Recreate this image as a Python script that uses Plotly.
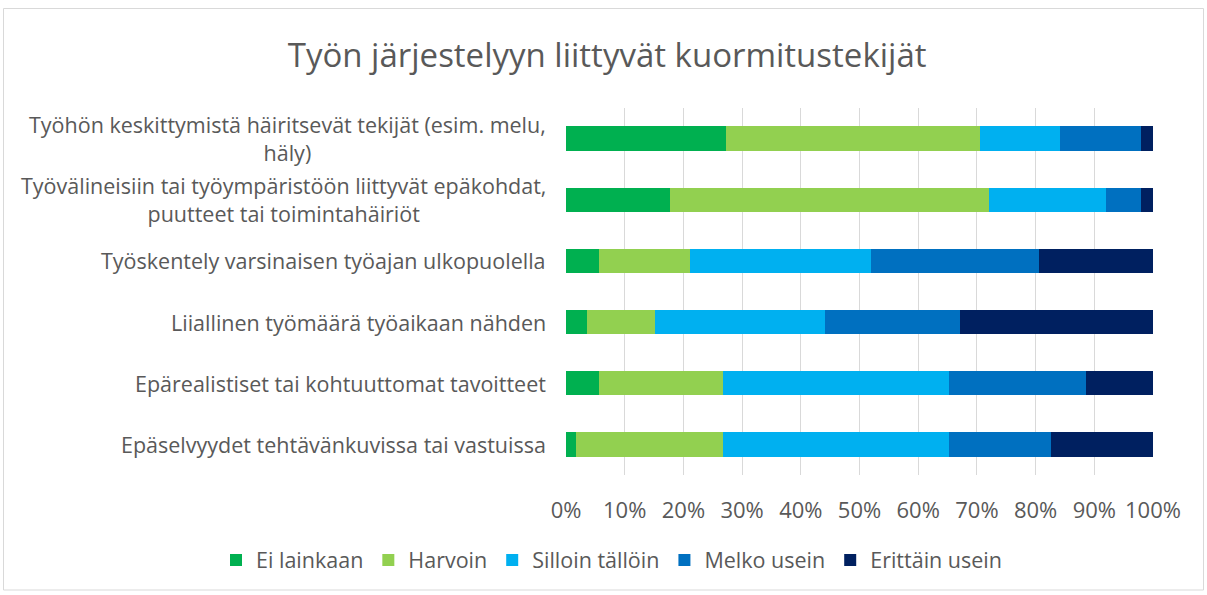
import plotly.graph_objects as go

categories = [
    "Työhön keskittymistä häiritsevät tekijät (esim. melu,<br>häly)",
    "Työvälineisiin tai työympäristöön liittyvät epäkohdat,<br>puutteet tai toimintahäiriöt",
    "Työskentely varsinaisen työajan ulkopuolella",
    "Liiallinen työmäärä työaikaan nähden",
    "Epärealistiset tai kohtuuttomat tavoitteet",
    "Epäselvyydet tehtävänkuvissa tai vastuissa",
]
series_names = ["Ei lainkaan", "Harvoin", "Silloin tällöin", "Melko usein", "Erittäin usein"]
ei_lainkaan = [27.2, 17.8, 5.6, 3.6, 5.6, 1.7]
harvoin = [43.3, 54.2, 15.5, 11.6, 21.2, 25.1]
silloin_tallooin = [13.7, 20.0, 30.8, 28.9, 38.5, 38.5]
melko_usein = [13.8, 6.0, 28.7, 23.1, 23.2, 17.4]
erittain_usein = [2.0, 2.0, 19.4, 32.8, 11.5, 17.3]
tick_vals = [0, 0.1, 0.2, 0.3, 0.4, 0.5, 0.6, 0.7, 0.8, 0.9, 1.0]

colors = ["#00B050", "#92D050", "#00B0F0", "#0070C0", "#002060"]
series = [ei_lainkaan, harvoin, silloin_tallooin, melko_usein, erittain_usein]

ids = list(range(len(categories)))
fig = go.Figure()
for name, vals, col in zip(series_names, series, colors):
    fig.add_trace(go.Bar(
        y=ids, x=[v / 100 for v in vals], name=name, orientation="h",
        marker=dict(color=col, line=dict(width=0)), width=0.4,
    ))

FONT = "'Open Sans', sans-serif"
GREY = "#595959"

W, H = 1207, 595
L, R, T, B = 566, 54, 108, 120
pw, ph = W - L - R, H - T - B

annotations = []
for i, c in enumerate(categories):
    annotations.append(dict(
        x=0, xref="paper", y=i, yref="y", xshift=-18,
        text=c, showarrow=False, xanchor="right", yanchor="middle",
        align="center", font=dict(family=FONT, size=21.5, color=GREY),
    ))

def px_x(p):
    return (p - L) / pw

def px_y(p):
    return (H - B - p) / ph

fig.update_layout(
    width=W, height=H,
    barmode="stack",
    plot_bgcolor="white", paper_bgcolor="white",
    margin=dict(l=L, r=R, t=T, b=B),
    title=dict(text="Työn järjestelyyn liittyvät kuormitustekijät",
               x=0.503, xanchor="center", y=1 - 55 / H, yanchor="middle",
               font=dict(family=FONT, size=33, color=GREY)),
    xaxis=dict(range=[0, 1], tickvals=tick_vals, tickformat=".0%",
               showgrid=True, gridcolor="#D9D9D9", gridwidth=1,
               zeroline=False, showline=False, ticks="",
               ticklabelstandoff=20,
               tickfont=dict(family=FONT, size=22, color=GREY)),
    yaxis=dict(range=[5.5, -0.5], showticklabels=False, showgrid=False,
               zeroline=False, showline=False, ticks=""),
    bargap=0.6,
    legend=dict(orientation="h", x=px_x(216), xanchor="left",
                y=px_y(560), yanchor="middle",
                font=dict(family=FONT, size=21.5, color=GREY),
                traceorder="normal"),
    annotations=annotations,
    shapes=[dict(type="rect", xref="paper", yref="paper",
                 x0=px_x(3.5), x1=px_x(1203.5), y0=px_y(590), y1=px_y(8.5),
                 line=dict(color="#D9D9D9", width=1), fillcolor="rgba(0,0,0,0)",
                 layer="below")],
)

fig.write_html("out.html", config={"displayModeBar": False},
               post_script="document.body.style.margin='0';")
